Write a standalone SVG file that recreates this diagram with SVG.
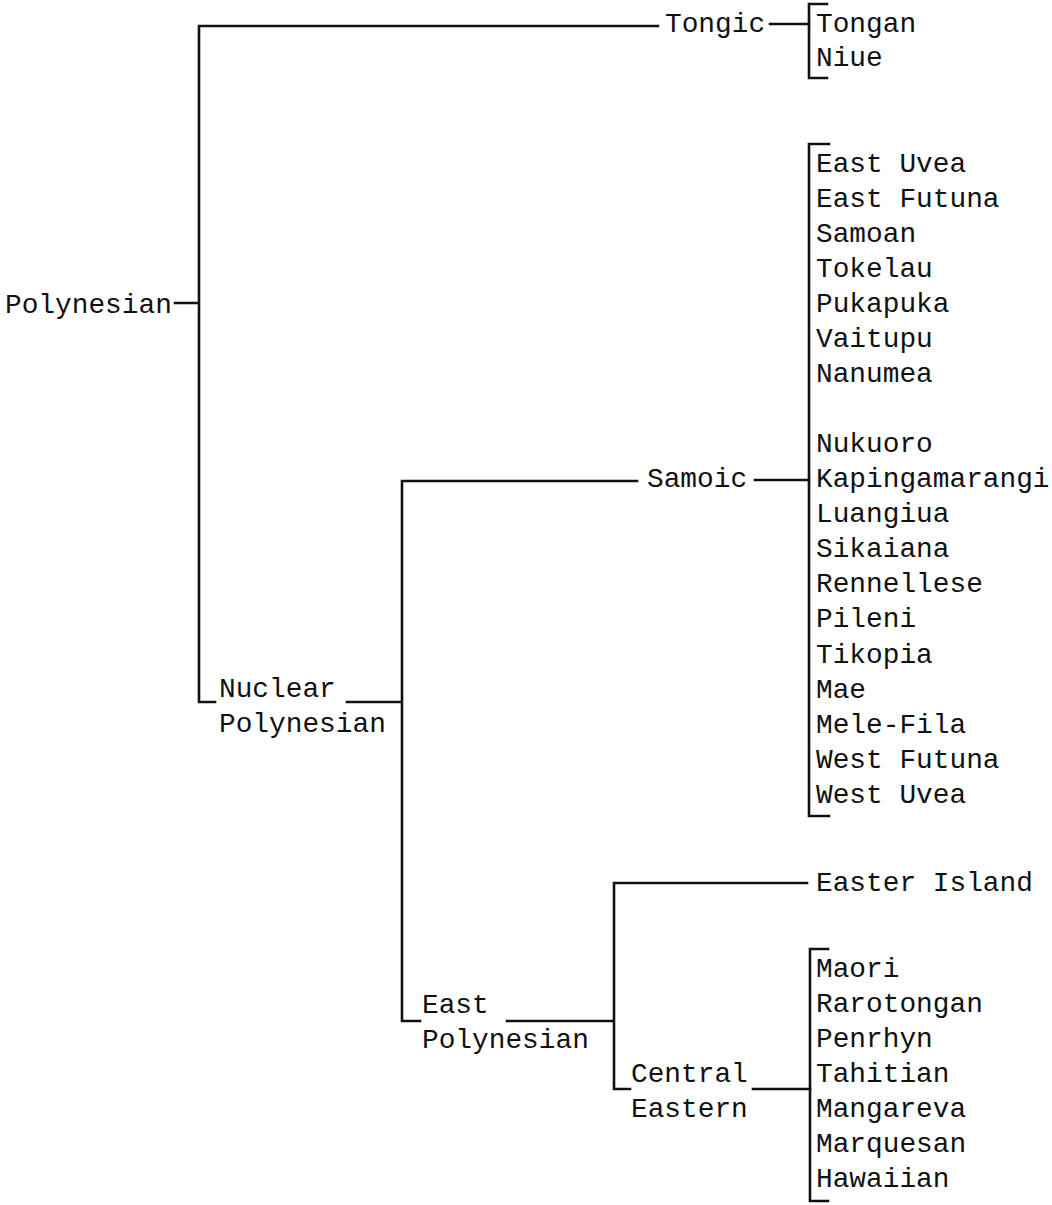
<svg xmlns="http://www.w3.org/2000/svg" width="1052" height="1205" viewBox="0 0 1052 1205">
<style>
text{font-family:"Liberation Mono","Courier New",monospace;font-size:27.8px;fill:#111}
.ln{fill:none;stroke:#111;stroke-width:2.6;stroke-linecap:square;stroke-linejoin:miter}
</style>
<rect width="1052" height="1205" fill="#fff"/>
<g id="connectors">
<path class="ln" d="M175 303H199M199 26V702H215M199 26H658"/>
<path class="ln" d="M770 24H809"/>
<path class="ln" d="M827 4H809V78H827"/>
<path class="ln" d="M347 702H402M402 481V1021H420M402 481H637"/>
<path class="ln" d="M755 480H809"/>
<path class="ln" d="M829 144H809V816H829"/>
<path class="ln" d="M507 1021H614M614 883V1089H630M614 883H807"/>
<path class="ln" d="M753 1089H810"/>
<path class="ln" d="M828 949H810V1201H828"/>
</g>
<g id="polynesian"><text x="5" y="313">Polynesian</text></g>
<g id="tongic"><text x="665" y="32">Tongic</text></g>
<g id="tongic-members">
<text x="816" y="32">Tongan</text>
<text x="816" y="66">Niue</text>
</g>
<g id="nuclear-polynesian"><text x="219" y="697">Nuclear</text><text x="219" y="732">Polynesian</text></g>
<g id="samoic"><text x="647" y="487">Samoic</text></g>
<g id="samoic-members">
<text x="816" y="172">East Uvea</text>
<text x="816" y="207">East Futuna</text>
<text x="816" y="242">Samoan</text>
<text x="816" y="277">Tokelau</text>
<text x="816" y="312">Pukapuka</text>
<text x="816" y="347">Vaitupu</text>
<text x="816" y="382">Nanumea</text>
<text x="816" y="452">Nukuoro</text>
<text x="816" y="487">Kapingamarangi</text>
<text x="816" y="522">Luangiua</text>
<text x="816" y="557">Sikaiana</text>
<text x="816" y="592">Rennellese</text>
<text x="816" y="627">Pileni</text>
<text x="816" y="663">Tikopia</text>
<text x="816" y="698">Mae</text>
<text x="816" y="733">Mele-Fila</text>
<text x="816" y="768">West Futuna</text>
<text x="816" y="803">West Uvea</text>
</g>
<g id="east-polynesian"><text x="422" y="1013">East</text><text x="422" y="1048">Polynesian</text></g>
<g id="easter-island"><text x="816" y="891">Easter Island</text></g>
<g id="central-eastern"><text x="631" y="1082">Central</text><text x="631" y="1117">Eastern</text></g>
<g id="central-eastern-members">
<text x="816" y="977">Maori</text>
<text x="816" y="1012">Rarotongan</text>
<text x="816" y="1047">Penrhyn</text>
<text x="816" y="1082">Tahitian</text>
<text x="816" y="1117">Mangareva</text>
<text x="816" y="1152">Marquesan</text>
<text x="816" y="1187">Hawaiian</text>
</g>
</svg>
